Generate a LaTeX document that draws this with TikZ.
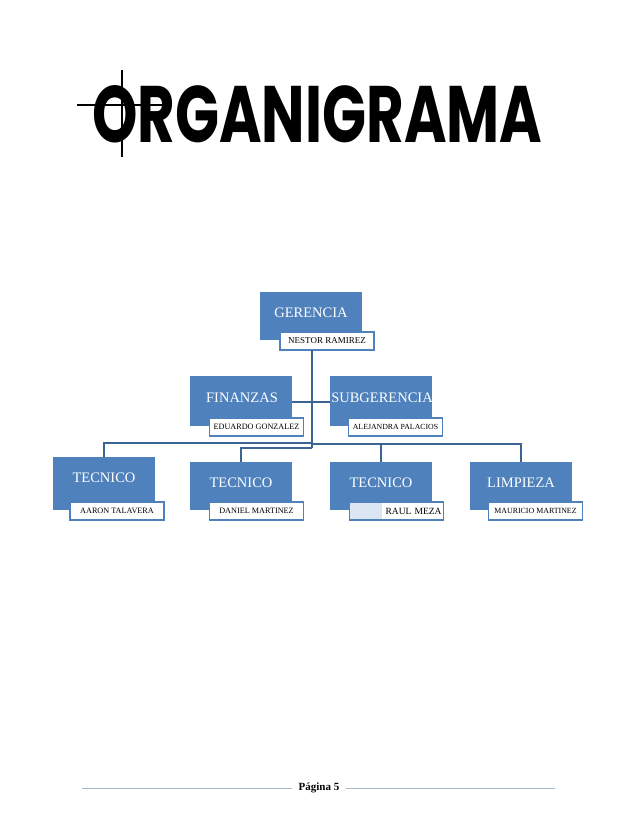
\documentclass[tikz,border=0pt]{standalone}
\usepackage{fontspec}
\setmainfont{Liberation Serif}
\newfontfamily\titlefont{Poppins}
\definecolor{boxblue}{HTML}{4F81BD}
\definecolor{linkblue}{HTML}{3B6494}
\definecolor{hlblue}{HTML}{DCE6F2}
\definecolor{rulegrey}{HTML}{A9B8CB}
\begin{document}
\begin{tikzpicture}[x=1pt,y=-1pt,
  bluebox/.style={fill=boxblue, draw=none, minimum width=102pt, anchor=north west, inner sep=0pt},
  namebox/.style={fill=white, draw=boxblue, line width=1.4pt, minimum width=94pt, minimum height=18pt, inner sep=0pt, font=\fontsize{8.2}{9}\selectfont},
  boxlabel/.style={text=white, font=\fontsize{14.5}{16}\selectfont, inner sep=0pt},
  link/.style={draw=linkblue, line width=1.8pt},
  footrule/.style={draw=rulegrey, line width=0.6pt}]
\useasboundingbox (0,0) rectangle (638,826);
\fill[white] (0,0) rectangle (638,826);

% title
\node[anchor=north west, inner sep=0pt] (ttl) at (92,85) {\resizebox{450pt}{57pt}{\titlefont\bfseries ORGANIGRAMA}};
\draw[line width=2.5pt] (122,70) -- (122,157);
\draw[line width=2.5pt] (77,105) -- (165,105);

% blue boxes
\node[bluebox, minimum height=48pt] (ger) at (260,292) {};
\node[bluebox, minimum height=50pt] (fin) at (190,376) {};
\node[bluebox, minimum height=50pt] (sub) at (330,376) {};
\node[bluebox, minimum height=53pt] (tec1) at (53,457) {};
\node[bluebox, minimum height=48pt] (tec2) at (190,462) {};
\node[bluebox, minimum height=48pt] (tec3) at (330,462) {};
\node[bluebox, minimum height=48pt] (lim) at (470,462) {};

% box labels
\node[boxlabel] (gerT) at (311,313) {GERENCIA};
\node[boxlabel] (finT) at (242,398) {FINANZAS};
\node[boxlabel] (subT) at (382,398) {SUBGERENCIA};
\node[boxlabel] (tec1T) at (104,478) {TECNICO};
\node[boxlabel] (tec2T) at (241,483) {TECNICO};
\node[boxlabel] (tec3T) at (381,483) {TECNICO};
\node[boxlabel] (limT) at (521,483) {LIMPIEZA};

% connectors
\coordinate (trunk) at (312,350);
\coordinate (hub) at (312,448);
\node[namebox, font=\fontsize{9}{10}\selectfont] (gerN) at (327,341) {NESTOR RAMIREZ};
\draw[link] (trunk) -- (hub);
\draw[link] (fin.east |- 0,402) -- (trunk |- 0,402);
\draw[link] (trunk |- 0,402) -- (sub.west |- 0,402);
\draw[link] (trunk |- 0,443) -| (tec1.north);
\draw[link] (hub) -| (tec2.north);
\draw[link] (trunk |- 0,444) -| (tec3.north);
\draw[link] (trunk |- 0,444) -| (lim.north);

% name boxes
\node[namebox] (finN) at (256.5,427) {EDUARDO GONZALEZ};
\node[namebox, font=\fontsize{7.8}{9}\selectfont] (subN) at (395.5,427) {ALEJANDRA PALACIOS};
\node[namebox] (tec1N) at (117,511) {AARON TALAVERA};
\node[namebox] (tec2N) at (256.5,511) {DANIEL MARTINEZ};
\node[namebox, font=\fontsize{9.5}{10}\selectfont, text width=90pt, align=right,
  path picture={\fill[hlblue] (path picture bounding box.north west) rectangle ([xshift=32pt]path picture bounding box.south west);}] (tec3N) at (396.5,511) {RAUL MEZA};
\node[namebox, font=\fontsize{7.9}{9}\selectfont] (limN) at (535.5,511) {MAURICIO MARTINEZ};

% footer
\node[inner sep=6pt, font=\fontsize{11}{12}\selectfont\bfseries] (pg) at (319,788) {Página 5};
\draw[footrule] (82,788) -- (pg.west);
\draw[footrule] (pg.east) -- (555,788);
\end{tikzpicture}
\end{document}
